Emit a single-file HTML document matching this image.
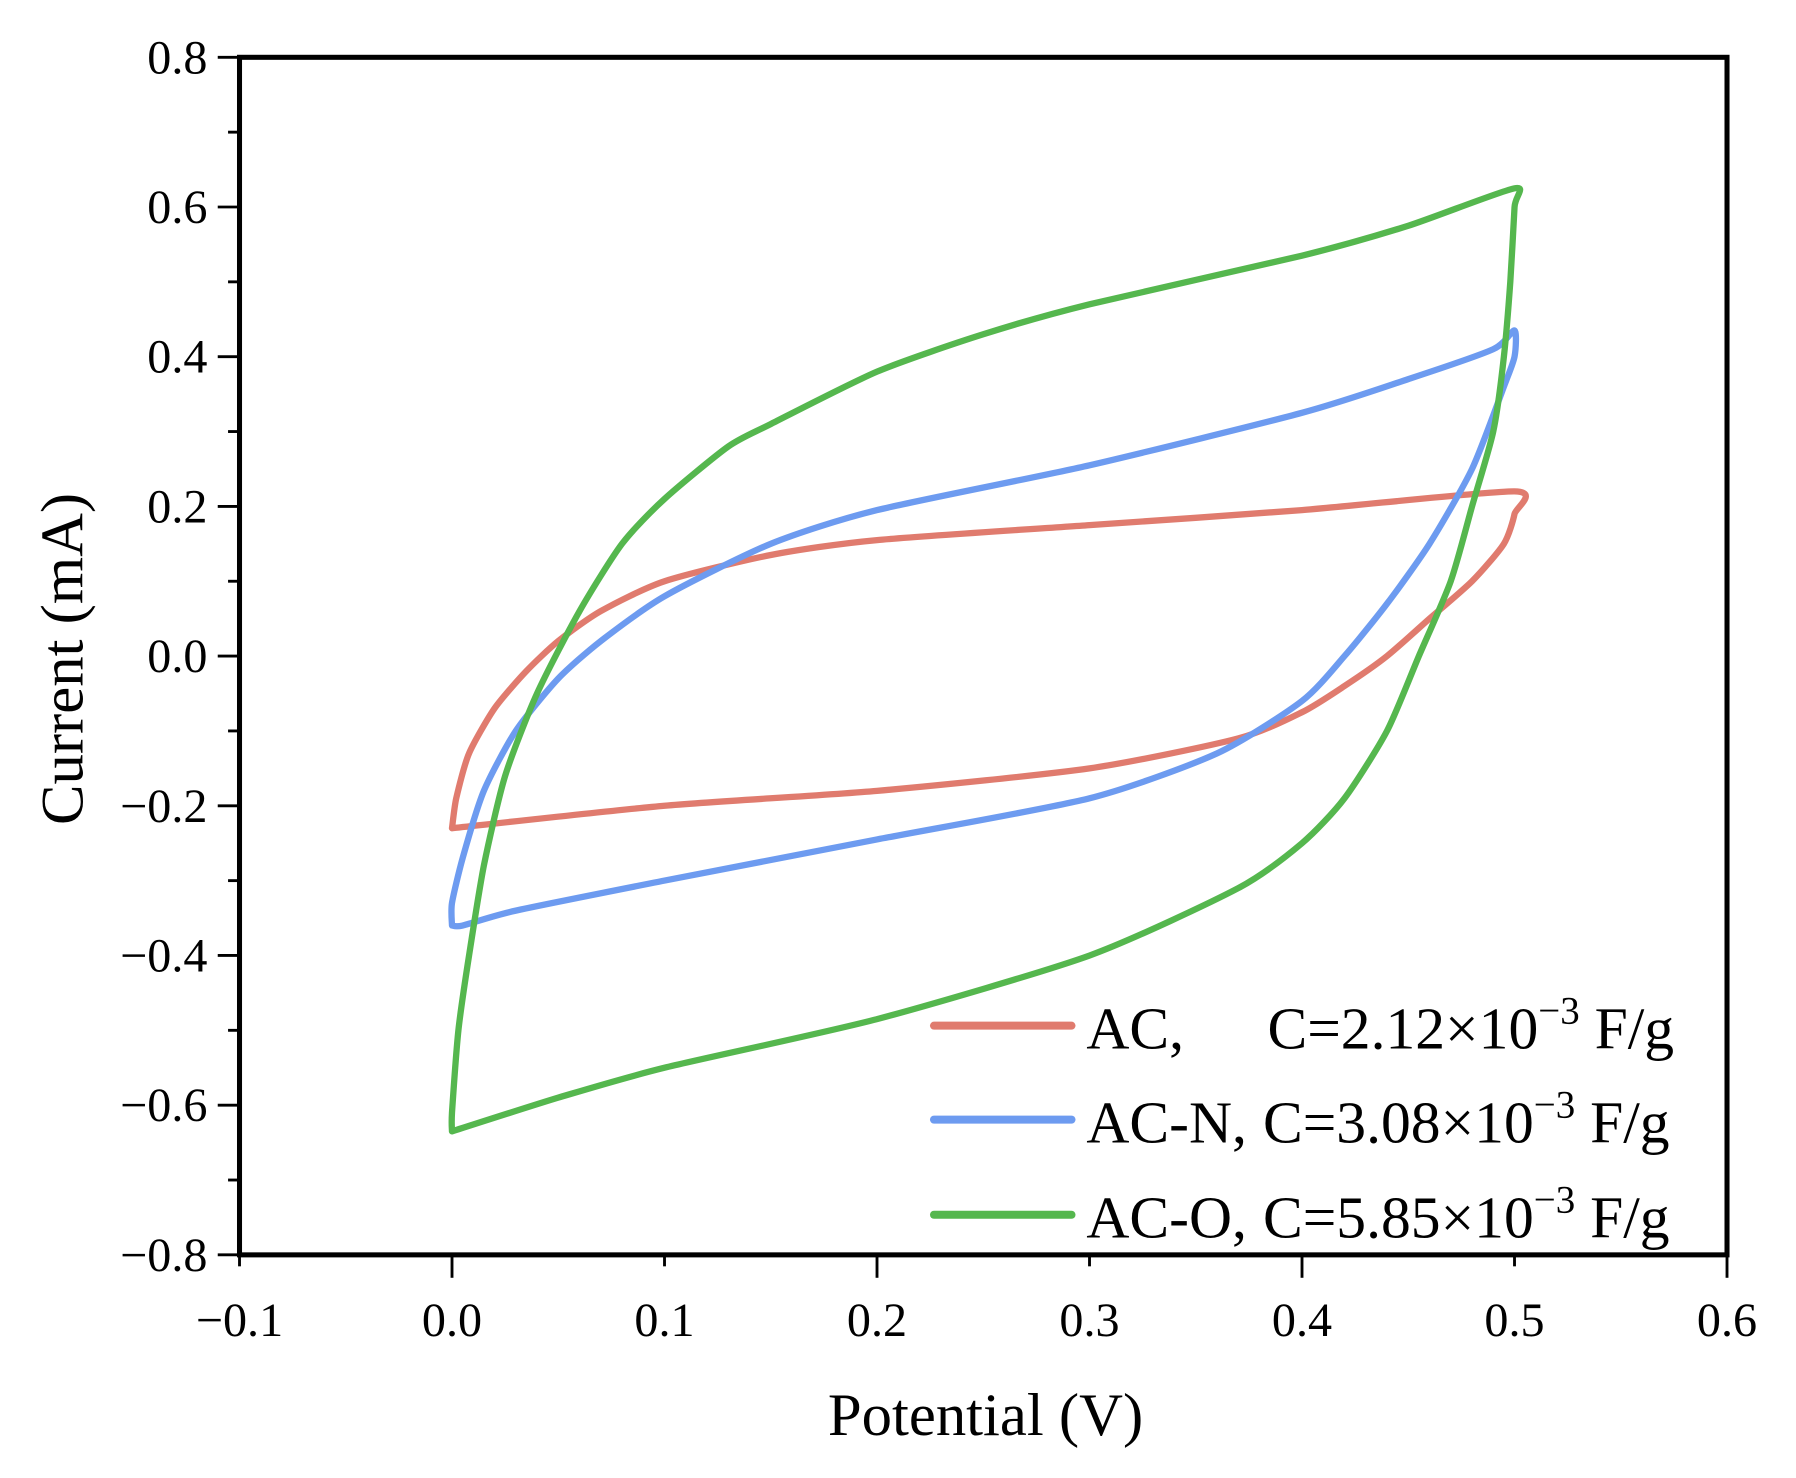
<!DOCTYPE html>
<html><head><meta charset="utf-8"><style>
html,body{margin:0;padding:0;background:#fff;}
svg{display:block;}
text{font-family:"Liberation Serif",serif;fill:#000;}
</style></head><body>
<svg id="chart" width="1796" height="1478" viewBox="0 0 1567.2 1289.7" xmlns="http://www.w3.org/2000/svg">
<g id="plot"></g>
<g id="axes"></g>
<g id="legend"></g>
</svg>
<script>
const xTicks=[-0.1,0,0.1,0.2,0.3,0.4,0.5,0.6];
const xTickLabels=["\u22120.1","0.0","0.1","0.2","0.3","0.4","0.5","0.6"];
const yTicks=[-0.8,-0.6,-0.4,-0.2,0,0.2,0.4,0.6,0.8];
const yTickLabels=["\u22120.8","\u22120.6","\u22120.4","\u22120.2","0.0","0.2","0.4","0.6","0.8"];
const seriesNames=["AC","AC-N","AC-O"];
const seriesCaps=["2.12","3.08","5.85"];
const acX=[0,0.002,0.008,0.02,0.035,0.05,0.07,0.1,0.15,0.2,0.3,0.4,0.5,0.5,0.495,0.48,0.46,0.44,0.42,0.4,0.37,0.3,0.2,0.1,0];
const acY=[-0.23,-0.19,-0.13,-0.07,-0.02,0.02,0.06,0.1,0.135,0.155,0.175,0.195,0.22,0.19,0.15,0.10,0.05,0.0,-0.04,-0.075,-0.11,-0.15,-0.18,-0.2,-0.23];
const acnX=[0,0,0.005,0.015,0.03,0.05,0.07,0.1,0.15,0.2,0.3,0.4,0.45,0.49,0.5,0.5,0.495,0.48,0.46,0.44,0.42,0.4,0.36,0.3,0.2,0.1,0.03,0.005,0];
const acnY=[-0.36,-0.33,-0.27,-0.18,-0.1,-0.03,0.02,0.08,0.15,0.195,0.255,0.325,0.37,0.41,0.435,0.4,0.36,0.25,0.15,0.07,0.0,-0.06,-0.13,-0.19,-0.245,-0.3,-0.34,-0.36,-0.36];
const acoX=[0,0,0.003,0.008,0.015,0.025,0.04,0.06,0.08,0.1,0.13,0.15,0.2,0.25,0.3,0.4,0.45,0.5,0.5,0.498,0.495,0.49,0.48,0.47,0.455,0.44,0.42,0.4,0.37,0.3,0.2,0.1,0.05,0];
const acoY=[-0.635,-0.61,-0.5,-0.4,-0.28,-0.16,-0.05,0.06,0.15,0.21,0.28,0.31,0.38,0.43,0.47,0.535,0.575,0.625,0.6,0.5,0.4,0.3,0.2,0.1,0.0,-0.1,-0.19,-0.25,-0.31,-0.4,-0.485,-0.55,-0.59,-0.635];
const colors=["#e07b6e","#6d9bf0","#55b74e"];
const X0=209,X1=1507,Y0=50,Y1=1095;
const xs=v=>X0+(v+0.1)/0.7*(X1-X0);
const ys=v=>Y1-(v+0.8)/1.6*(Y1-Y0);
const NS="http://www.w3.org/2000/svg";
function mk(tag,attrs,parent){const e=document.createElementNS(NS,tag);for(const k in attrs)e.setAttribute(k,attrs[k]);parent.appendChild(e);return e;}
function smooth(P){
  let d="M"+P[0][0].toFixed(1)+","+P[0][1].toFixed(1);
  for(let i=0;i<P.length-1;i++){
    const p0=P[Math.max(0,i-1)],p1=P[i],p2=P[i+1],p3=P[Math.min(P.length-1,i+2)];
    const t=0.35/3;
    const c1=[p1[0]+(p2[0]-p0[0])*t,p1[1]+(p2[1]-p0[1])*t];
    const c2=[p2[0]-(p3[0]-p1[0])*t,p2[1]-(p3[1]-p1[1])*t];
    d+="C"+c1[0].toFixed(1)+","+c1[1].toFixed(1)+" "+c2[0].toFixed(1)+","+c2[1].toFixed(1)+" "+p2[0].toFixed(1)+","+p2[1].toFixed(1);
  }
  return d;
}
const plot=document.getElementById('plot'),axes=document.getElementById('axes'),legend=document.getElementById('legend');
const data=[[acX,acY],[acnX,acnY],[acoX,acoY]];
data.forEach((d,i)=>{
  const P=d[0].map((x,j)=>[xs(x),ys(d[1][j])]);
  const p=mk('path',{d:smooth(P),fill:'none',stroke:colors[i],'stroke-width':5.5,'stroke-linejoin':'round','stroke-linecap':'round'},plot);
  
  
});
const fr=mk('rect',{x:X0,y:Y0,width:X1-X0,height:Y1-Y0,fill:'none',stroke:'#000','stroke-width':4.4},axes);


for(let k=0;k<=7;k++){
  const v=-0.1+k*0.1; const x=xs(v);
  const len=(k%2===1||k===7)?20:10;
  const t=mk('line',{x1:x,y1:Y1,x2:x,y2:Y1+len,stroke:'#000','stroke-width':2.5},axes);
  
  
}
xTicks.forEach((v,i)=>{
  const t=mk('text',{x:xs(v),y:1166,'font-size':42,'text-anchor':'middle'},axes);
  t.textContent=xTickLabels[i];
  
  
});
for(let k=0;k<=16;k++){
  const v=-0.8+k*0.1; const y=ys(v);
  const len=(k%2===0)?19:10;
  const t=mk('line',{x1:X0,y1:y,x2:X0-len,y2:y,stroke:'#000','stroke-width':2.5},axes);
  
  
}
yTicks.forEach((v,i)=>{
  const t=mk('text',{x:181,y:ys(v)+14,'font-size':42,'text-anchor':'end'},axes);
  t.textContent=yTickLabels[i];
  
  
});
const xt=mk('text',{x:860,y:1252,'font-size':53,'text-anchor':'middle'},axes);
xt.textContent="Potential (V)";


const yt=mk('text',{x:72,y:575,'font-size':53,'text-anchor':'middle',transform:'rotate(-90 72 575)'},axes);
yt.textContent="Current (mA)";


const ly=[895,977,1060];
seriesNames.forEach((n,i)=>{
  const l=mk('line',{x1:815,y1:ly[i],x2:935,y2:ly[i],stroke:colors[i],'stroke-width':7,'stroke-linecap':'round'},legend);
  
  
  const t=mk('text',{x:948,y:ly[i]+20,'font-size':52},legend);
  
  
  const a=mk('tspan',{},t); a.textContent=n+",";
  const b=mk('tspan',(i===0?{x:1106}:{dx:14}),t); b.textContent="C="+seriesCaps[i]+"\u00d710";
  const c=mk('tspan',{dy:-22,'font-size':34},t); c.textContent="\u22123";
  const d=mk('tspan',{dy:22,'font-size':52},t); d.textContent=" F/g";
});
</script>
</body></html>
